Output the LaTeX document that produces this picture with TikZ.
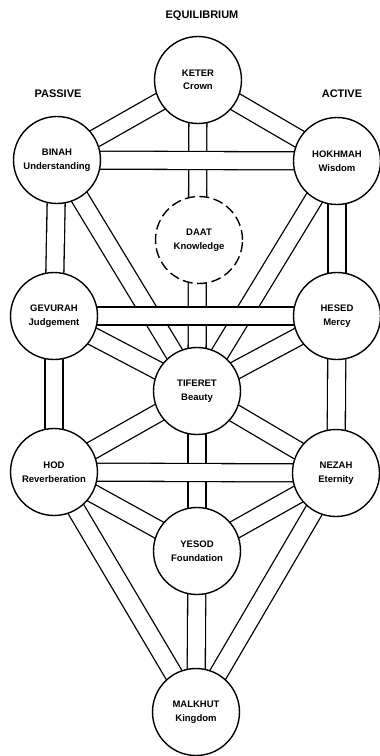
\documentclass[tikz,border=0pt]{standalone}
\usepackage{fontspec}
\setmainfont{Liberation Sans}
\usetikzlibrary{backgrounds}
\begin{document}
\begin{tikzpicture}[x=1pt,y=-1pt]
\useasboundingbox (0,0) rectangle (380,756);
\tikzset{
  sef/.style={circle, draw, line width=1.4pt, fill=white, minimum size=87pt,
    inner sep=0pt, align=center, font=\fontsize{9.5}{13.5}\selectfont\bfseries},
  sefdash/.style={sef, dash pattern=on 10pt off 4.5pt},
  bar/.style={line width=1.3pt, double=white, double distance=16.7pt},
  head/.style={font=\fontsize{11}{13}\selectfont\bfseries}
}
% headings
\node[head] (equi) at (202,16) {EQUILIBRIUM};
\node[head] (pass) at (58,94) {PASSIVE};
\node[head] (act) at (342,94) {ACTIVE};
% sefirot
\node[sef] (keter) at (198,80) {KETER\\Crown};
\node[sef] (binah) at (57,160) {BINAH\\Understanding};
\node[sef] (hokhmah) at (337,161) {HOKHMAH\\Wisdom};
\node[sefdash] (daat) at (199,240) {DAAT\\Knowledge};
\node[sef] (gevurah) at (54,316) {GEVURAH\\Judgement};
\node[sef] (hesed) at (337,316) {HESED\\Mercy};
\node[sef] (tiferet) at (197,391) {TIFERET\\Beauty};
\node[sef] (hod) at (54,472) {HOD\\Reverberation};
\node[sef] (nezah) at (336,473) {NEZAH\\Eternity};
\node[sef] (yesod) at (197,551) {YESOD\\Foundation};
\node[sef] (malkhut) at (196,712) {MALKHUT\\Kingdom};
% paths
\begin{pgfonlayer}{background}
\foreach \a/\b in {keter/binah, keter/hokhmah, keter/tiferet,
  binah/gevurah, binah/tiferet, hokhmah/hesed, hokhmah/tiferet,
  gevurah/tiferet, hesed/tiferet, gevurah/hod, hesed/nezah,
  tiferet/hod, tiferet/nezah, tiferet/yesod,
  hod/yesod, nezah/yesod, hod/malkhut, nezah/malkhut, yesod/malkhut}
  \draw[bar] (\a.center) -- (\b.center);
\foreach \a/\b in {binah/hokhmah, gevurah/hesed, hod/nezah}
  \draw[bar] (\a.center) -- (\b.center);
\end{pgfonlayer}
\end{tikzpicture}
\end{document}
